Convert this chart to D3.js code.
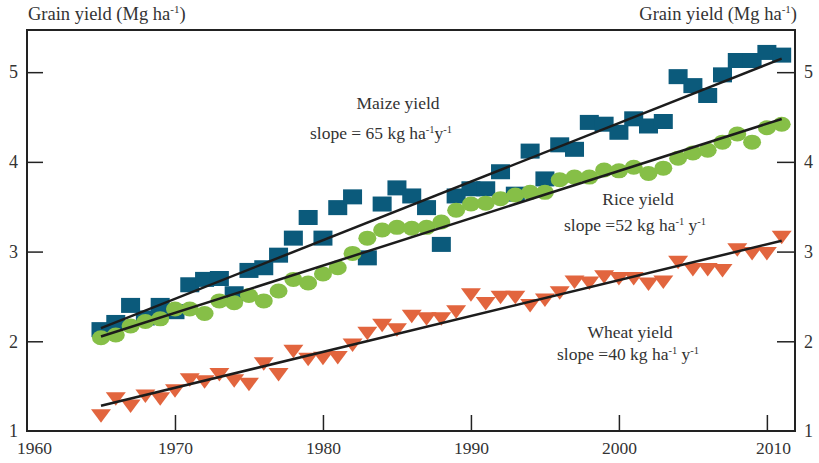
<!DOCTYPE html>
<html>
<head>
<meta charset="utf-8">
<script src="https://cdn.jsdelivr.net/npm/d3@7"></script>
<style>
  body { margin: 0; background: #fff; }
  svg { display: block; }
  text { font-family: "Liberation Serif", "DejaVu Serif", serif; fill: #333; }
</style>
</head>
<body>
<svg id="chart" width="819" height="463"></svg>
<script>
// ---- data ----
const years = [1965,1966,1967,1968,1969,1970,1971,1972,1973,1974,1975,1976,1977,1978,1979,1980,1981,1982,1983,1984,1985,1986,1987,1988,1989,1990,1991,1992,1993,1994,1995,1996,1997,1998,1999,2000,2001,2002,2003,2004,2005,2006,2007,2008,2009,2010,2011];
const maize = [2.13,2.21,2.40,2.26,2.40,2.33,2.63,2.69,2.70,2.53,
               2.79,2.82,2.96,3.15,3.38,3.15,3.49,3.61,2.93,3.53,
               3.71,3.62,3.49,3.08,3.62,3.70,3.70,3.89,3.64,4.12,
               3.81,4.19,4.14,4.44,4.42,4.33,4.48,4.40,4.45,4.95,
               4.85,4.74,4.97,5.13,5.13,5.22,5.19];
const rice = [2.04,2.07,2.17,2.22,2.25,2.36,2.36,2.31,2.45,2.43,
              2.51,2.45,2.56,2.69,2.65,2.75,2.82,2.98,3.15,3.24,
              3.27,3.26,3.27,3.33,3.46,3.53,3.54,3.59,3.63,3.66,
              3.66,3.80,3.83,3.83,3.91,3.90,3.94,3.87,3.93,4.04,
              4.10,4.13,4.22,4.31,4.22,4.38,4.42];
const wheat = [1.17,1.36,1.28,1.39,1.36,1.45,1.57,1.55,1.63,1.56,
               1.52,1.75,1.63,1.89,1.80,1.81,1.82,1.96,2.09,2.18,
               2.13,2.28,2.25,2.25,2.33,2.52,2.42,2.49,2.49,2.40,
               2.46,2.54,2.66,2.65,2.72,2.70,2.70,2.64,2.66,2.88,
               2.80,2.80,2.79,3.02,2.98,2.98,3.16];
const xTicks = [1960,1970,1980,1990,2000,2010];
const yTicks = [1,2,3,4,5];
const axisTitle = ["Grain yield (Mg ha", "-1", ")"];
const labels = [
  {name: "Maize yield", slope: "65", sep: ""},
  {name: "Rice yield", slope: "52", sep: " "},
  {name: "Wheat yield", slope: "40", sep: " "}
];

// ---- layout ----
const svg = d3.select("#chart");
const L = 27, R = 795, T = 30, B = 431;
const x = d3.scaleLinear().domain([1960, 2011.9]).range([L, R]);
const y = d3.scaleLinear().domain([1, 5.47]).range([B, T]);

const colMaize = "#0b5a7b", colRice = "#86bf47", colWheat = "#e2653e";

// frame
svg.append("rect").attr("x", L).attr("y", T).attr("width", R - L).attr("height", B - T)
  .attr("fill", "none").attr("stroke", "#222").attr("stroke-width", 2);

// axes
const gx = svg.append("g").attr("transform", `translate(0,${B})`)
  .call(d3.axisBottom(x).tickValues(xTicks).tickFormat(d3.format("d")).tickSizeInner(-16).tickSizeOuter(0));
gx.select(".domain").remove();
gx.selectAll(".tick line").attr("stroke", "#222").attr("stroke-width", 1.5)
  .filter(d => d === 1960).remove();
gx.selectAll(".tick text").attr("y", 23).attr("dy", null).attr("font-size", 17.5)
  .attr("font-family", "Liberation Serif").attr("fill", "#333")
  .attr("dx", d => d === 1960 ? 7 : (d === 2010 ? 6 : 0));

const gyl = svg.append("g").attr("transform", `translate(${L},0)`)
  .call(d3.axisLeft(y).tickValues(yTicks).tickFormat(d3.format("d")).tickSizeInner(-16).tickSizeOuter(0).tickPadding(9));
gyl.select(".domain").remove();
gyl.selectAll(".tick line").attr("stroke", "#222").attr("stroke-width", 1.5).filter(d => d === 1).remove();
gyl.selectAll(".tick text").attr("font-size", 18).attr("font-family", "Liberation Serif").attr("fill", "#333");

const gyr = svg.append("g").attr("transform", `translate(${R},0)`)
  .call(d3.axisRight(y).tickValues(yTicks).tickFormat(d3.format("d")).tickSizeInner(-18).tickSizeOuter(0).tickPadding(9));
gyr.select(".domain").remove();
gyr.selectAll(".tick line").attr("stroke", "#222").attr("stroke-width", 1.5).filter(d => d === 1).remove();
gyr.selectAll(".tick text").attr("font-size", 18).attr("font-family", "Liberation Serif").attr("fill", "#333");

// axis titles
function title(xpos, anchor) {
  const t = svg.append("text").attr("x", xpos).attr("y", 20).attr("font-size", 18.5).attr("text-anchor", anchor);
  t.append("tspan").text(axisTitle[0]);
  t.append("tspan").attr("font-size", 11).attr("dy", -7).text(axisTitle[1]);
  t.append("tspan").attr("dy", 7).text(axisTitle[2]);
}
title(28, "start");
title(797, "end");

// markers
const mz = years.map((yr, i) => ({yr, v: maize[i]}));
const rc = years.map((yr, i) => ({yr, v: rice[i]}));
const wh = years.map((yr, i) => ({yr, v: wheat[i]}));

svg.append("g").selectAll("rect").data(mz).join("rect")
  .attr("x", d => x(d.yr) - 9.5).attr("y", d => y(d.v) - 7.5)
  .attr("width", 19).attr("height", 15).attr("fill", colMaize);

svg.append("g").selectAll("ellipse").data(rc).join("ellipse")
  .attr("cx", d => x(d.yr)).attr("cy", d => y(d.v))
  .attr("rx", 9).attr("ry", 7.5).attr("fill", colRice);

svg.append("g").selectAll("path").data(wh).join("path")
  .attr("d", d => {
    const cx = x(d.yr), cy = y(d.v);
    return `M${cx - 10},${cy - 6.5}L${cx + 10},${cy - 6.5}L${cx},${cy + 7}Z`;
  })
  .attr("fill", colWheat);

// trend lines (least squares)
function fit(vals) {
  const n = years.length;
  const mx = d3.mean(years), my = d3.mean(vals);
  let sxy = 0, sxx = 0;
  years.forEach((yr, i) => { sxy += (yr - mx) * (vals[i] - my); sxx += (yr - mx) ** 2; });
  const b = sxy / sxx, a = my - b * mx;
  return [years[0], years[n - 1]].map(yr => [yr, a + b * yr]);
}
const line = d3.line().x(d => x(d[0])).y(d => y(d[1]));
[maize, rice, wheat].forEach(vals => {
  svg.append("path").attr("d", line(fit(vals)))
    .attr("fill", "none").attr("stroke", "#1c1c1c").attr("stroke-width", 2.5);
});

// annotations
const annPos = [
  {cx: 398, y1: 109, x2: 310, y2: 139},
  {cx: 638, y1: 205, x2: 564, y2: 231},
  {cx: 630, y1: 338, x2: 557, y2: 360}
];
labels.forEach((lab, i) => {
  const p = annPos[i];
  svg.append("text").attr("x", p.cx).attr("y", p.y1).attr("text-anchor", "middle")
    .attr("font-size", 17.5).text(lab.name);
  const t = svg.append("text").attr("x", p.x2).attr("y", p.y2).attr("font-size", 17.5);
  t.append("tspan").text(i === 0 ? `slope = ${lab.slope} kg ha` : `slope =${lab.slope} kg ha`);
  t.append("tspan").attr("font-size", 10.5).attr("dy", -6).text("-1");
  t.append("tspan").attr("dy", 6).text(lab.sep + "y");
  t.append("tspan").attr("font-size", 10.5).attr("dy", -6).text("-1");
});
</script>
</body>
</html>
